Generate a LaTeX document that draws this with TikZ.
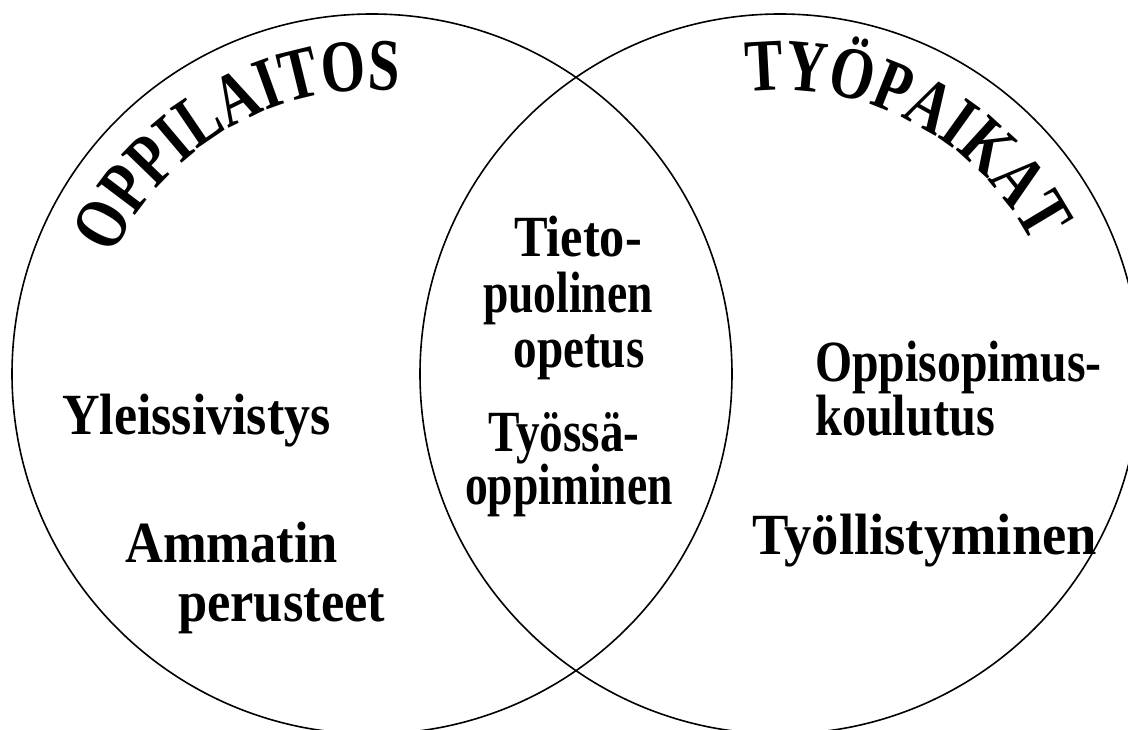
\documentclass[tikz,border=0pt]{standalone}
\usepackage{fontspec}
\setmainfont{Liberation Serif}
\newfontfamily\arcfamily{Liberation Serif}[FakeStretch=0.77]
\usetikzlibrary{decorations.text}
\tikzset{
  ring/.style={draw, circle, minimum size=720pt, inner sep=0pt, line width=1.6pt},
  lbl/.style={inner sep=0pt, font=\bfseries\fontsize{53}{60}\selectfont},
}
\newcommand{\curvefont}{\arcfamily\bfseries\fontsize{74}{76}\selectfont}
\newcommand{\lab}[2]{\scalebox{#1}[1.1]{#2}}
\begin{document}
\begin{tikzpicture}[x=1pt,y=1pt]
\useasboundingbox (0,0) rectangle (1128,729);
\node[ring] (L) at (372,355) {};
\node[ring] (R) at (780,355) {};
\path[decorate, decoration={text along path, text={|\curvefont|OPPILAITOS}, text align=center}]
  (L.center) ++(165:284) arc[start angle=165, end angle=75, radius=284];
\path[decorate, decoration={text along path, text={|\curvefont|TYÖPAIKAT}, text align=center}]
  (R.center) ++(107:284) arc[start angle=107, end angle=17, radius=284];
\node[lbl, anchor=base] (tieto) at (578,472) {\lab{0.95}{Tieto-}};
\node[lbl, anchor=base] (puol) at (568,416) {\lab{0.86}{puolinen}};
\node[lbl, anchor=base] (opet) at (579,361) {\lab{0.89}{opetus}};
\node[lbl, anchor=base] (tyossa) at (564,277) {\lab{0.89}{Työssä-}};
\node[lbl, anchor=base] (oppim) at (569,224) {\lab{0.86}{oppiminen}};
\node[lbl, anchor=base west] (yleis) at (62,294) {\lab{0.98}{Yleissivistys}};
\node[lbl, anchor=base west] (amm) at (125,166) {\lab{0.99}{Ammatin}};
\node[lbl, anchor=base west] (perus) at (178,107) {\lab{0.99}{perusteet}};
\node[lbl, anchor=base west] (oppis) at (815,347) {\lab{0.9}{Oppisopimus-}};
\node[lbl, anchor=base west] (koul) at (815,293) {\lab{0.91}{koulutus}};
\node[lbl, anchor=base west] (tyoll) at (752,174) {\lab{1.03}{Työllistyminen}};
\end{tikzpicture}
\end{document}
